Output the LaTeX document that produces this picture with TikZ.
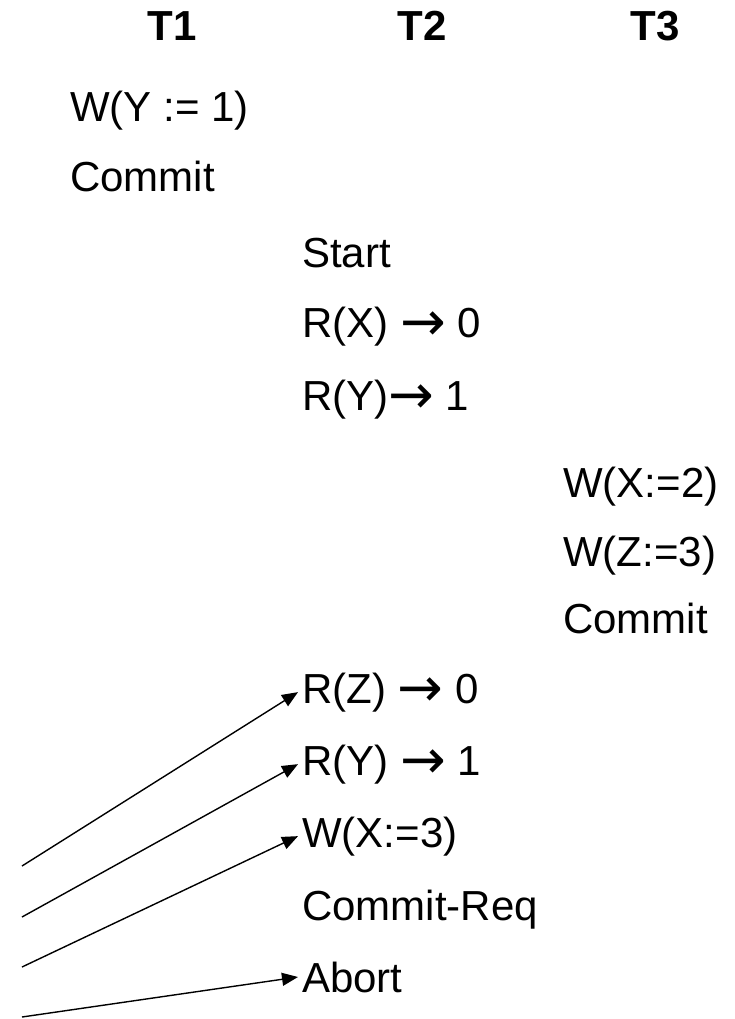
\documentclass[tikz,border=0pt]{standalone}
\usepackage{fontspec}
\setmainfont{Liberation Sans}
\newfontfamily\arrowfont{DejaVu Sans}
\usetikzlibrary{arrows.meta}
% arrow between a read and the value it sees
\newcommand{\gives}{\raisebox{-3.5pt}{\scalebox{1.3}{\arrowfont →}}}

\begin{document}
\begin{tikzpicture}[x=1pt,y=-1pt,
    op/.style={anchor=base west, inner xsep=4pt, inner ysep=0pt, font=\fontsize{42}{50}\selectfont},
    hdr/.style={anchor=base, inner sep=0pt, font=\fontsize{42}{50}\selectfont\bfseries},
    link/.style={line width=1.4pt, -{Triangle[length=16pt,width=13pt]}}]
    \useasboundingbox (0,0) rectangle (734,1019);
    % Column positions (left edge of each transaction's operations)
    \def\ca{66}
    \def\cb{298}
    \def\cc{559}
    % Transaction headers
    \node[hdr] (t1) at (172,41) {T1};
    \node[hdr] (t2) at (422,41) {T2};
    \node[hdr] (t3) at (655,41) {T3};
    % T1
    \node[op] (w1) at (\ca,122) {W(Y := 1)};
    \node[op] (c1) at (\ca,192) {Commit};
    % T2, first part
    \node[op] (s2) at (\cb,267) {Start};
    \node[op] (rx2) at (\cb,337) {R(X) \gives{} 0};
    \node[op] (ry2) at (\cb,410) {R(Y)\gives{} 1};
    % T3
    \node[op] (wx3) at (\cc,497) {W(X:=2)};
    \node[op] (wz3) at (\cc,566) {W(Z:=3)};
    \node[op] (c3) at (\cc,633) {Commit};
    % T2, second part
    \node[op] (rz2) at (\cb,703) {R(Z) \gives{} 0};
    \node[op] (ryb2) at (\cb,775) {R(Y) \gives{} 1};
    \node[op] (wx2) at (\cb,847) {W(X:=3)};
    \node[op] (cr2) at (\cb,920) {Commit-Req};
    \node[op] (ab2) at (\cb,992) {Abort};
    % Incoming arrows
    \coordinate (p1) at (22,866);
    \coordinate (p2) at (22,917);
    \coordinate (p3) at (22,967);
    \coordinate (p4) at (22,1017);
    \draw[link] (p1) -- (rz2.west);
    \draw[link] (p2) -- (ryb2.west);
    \draw[link] (p3) -- (wx2.west);
    \draw[link] (p4) -- (ab2.west);
\end{tikzpicture}
\end{document}
